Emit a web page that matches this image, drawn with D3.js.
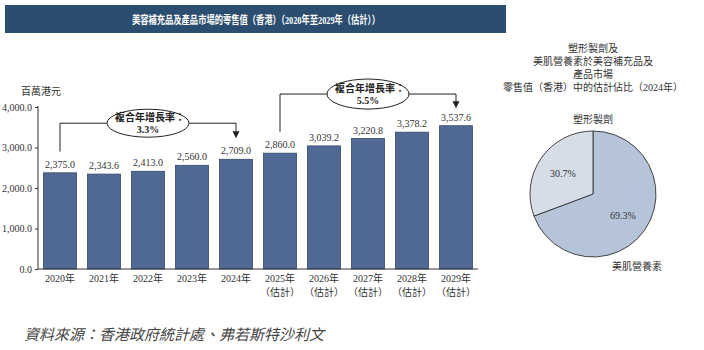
<!DOCTYPE html>
<html><head><meta charset="utf-8">
<script src="https://cdn.jsdelivr.net/npm/d3@7"></script>
<style>
html,body{margin:0;padding:0;background:#fff;}
svg{display:block;}
text{font-family:"Liberation Serif","Noto Sans CJK TC",serif;fill:#333;}
</style></head>
<body>
<svg id="c" width="704" height="350"></svg>
<script>
const title = "美容補充品及產品市場的零售值（香港）（2020年至2029年（估計））";
const years = ["2020年","2021年","2022年","2023年","2024年","2025年","2026年","2027年","2028年","2029年"];
const estimated = [false,false,false,false,false,true,true,true,true,true];
const values = [2375.0,2343.6,2413.0,2560.0,2709.0,2860.0,3039.2,3220.8,3378.2,3537.6];
const yTicks = [0,1000,2000,3000,4000];
const unitLabel = "百萬港元";
const estLabel = "（估計）";
const cagrs = [
  {from:0, to:4, label:"複合年增長率：", rate:"3.3%"},
  {from:5, to:9, label:"複合年增長率：", rate:"5.5%"}
];
const pieTitle = ["塑形製劑及","美肌營養素於美容補充品及","產品市場","零售值（香港）中的估計佔比（2024年）"];
const pieNames = ["美肌營養素","塑形製劑"];
const pieValues = [69.3,30.7];
const source = "資料來源：香港政府統計處、弗若斯特沙利文";

const svg = d3.select("#c");

// title bar
svg.append("rect").attr("x",5).attr("y",5).attr("width",501).attr("height",28).attr("fill","#2b4d70");
svg.append("text").attr("x",256).attr("y",23.5).attr("text-anchor","middle")
  .style("fill","#fff").attr("font-size",11).attr("font-weight","bold")
  .attr("textLength",248).attr("lengthAdjust","spacingAndGlyphs").text(title);

// scales
const x = d3.scaleBand().domain(years).range([38,478]).paddingInner(0.25).paddingOuter(0.125);
const y = d3.scaleLinear().domain([0,4000]).range([269,107]);

// y axis
const yAxis = svg.append("g").attr("transform","translate(38,0)")
  .call(d3.axisLeft(y).tickValues(yTicks).tickFormat(d3.format(",.1f")).tickSize(3).tickPadding(3));
yAxis.select(".domain").attr("stroke","#333").attr("d","M0,"+y(0)+"V"+(y(4000)-1));
yAxis.selectAll(".tick line").attr("stroke","#333");
yAxis.selectAll("text").attr("font-size",10).style("fill","#333").attr("font-family",null);

svg.append("text").attr("x",21).attr("y",95).attr("font-size",10).text(unitLabel);

// bars
svg.selectAll(".bar").data(values).enter().append("rect")
  .attr("x",(d,i)=>x(years[i])).attr("width",x.bandwidth())
  .attr("y",d=>y(d)).attr("height",d=>y(0)-y(d))
  .attr("fill","#506a95").attr("stroke","#34496b").attr("stroke-width",0.8);

svg.selectAll(".val").data(values).enter().append("text")
  .attr("x",(d,i)=>x(years[i])+x.bandwidth()/2).attr("y",d=>y(d)-5)
  .attr("text-anchor","middle").attr("font-size",10).text(d=>d3.format(",.1f")(d));

// x axis
svg.append("line").attr("x1",38).attr("x2",478).attr("y1",y(0)).attr("y2",y(0)).attr("stroke","#333");
years.forEach((yr,i)=>{
  const cx = x(yr)+x.bandwidth()/2;
  svg.append("text").attr("x",cx).attr("y",282).attr("text-anchor","middle").attr("font-size",10).text(yr);
  if(estimated[i]) svg.append("text").attr("x",cx).attr("y",296).attr("text-anchor","middle").attr("font-size",10).text(estLabel);
});

// CAGR annotations
const cagrGeom = [
  {startV:2900, lineV:3600, tipV:3230, ry:14},
  {startV:3390, lineV:4320, tipV:3970, ry:15}
];
cagrs.forEach((c,k)=>{
  const g = cagrGeom[k];
  const x1 = x(years[c.from])+x.bandwidth()/2;
  const x2 = x(years[c.to])+x.bandwidth()/2;
  const ly = y(g.lineV);
  const cx = (x1+x2)/2, rx = 41;
  const tip = y(g.tipV);
  svg.append("path").attr("fill","none").attr("stroke","#222").attr("stroke-width",1)
    .attr("d",`M${x1},${y(g.startV)}V${ly}H${cx-rx}M${cx+rx},${ly}H${x2}V${tip-6}`);
  svg.append("path").attr("fill","#222")
    .attr("d",`M${x2-3.5},${tip-7}L${x2+3.5},${tip-7}L${x2},${tip}Z`);
  svg.append("ellipse").attr("cx",cx).attr("cy",ly).attr("rx",rx).attr("ry",g.ry)
    .attr("fill","#fff").attr("stroke","#222").attr("stroke-width",1);
  svg.append("text").attr("x",cx+2).attr("y",ly-2).attr("text-anchor","middle")
    .attr("font-size",10).attr("font-weight","bold").style("fill","#222").text(c.label);
  svg.append("text").attr("x",cx).attr("y",ly+10).attr("text-anchor","middle")
    .attr("font-size",10).attr("font-weight","bold").style("fill","#222").text(c.rate);
});

// pie
pieTitle.forEach((t,i)=>{
  svg.append("text").attr("x",593).attr("y",52+i*13).attr("text-anchor","middle").attr("font-size",10).text(t);
});
const pcx = 593, pcy = 194, pr = 63;
const pie = d3.pie().sort(null).value(d=>d)(pieValues);
const arc = d3.arc().innerRadius(0).outerRadius(pr);
const pieColors = ["#b5c4d8","#d7dde8"];
const pg = svg.append("g").attr("transform",`translate(${pcx},${pcy})`);
pg.selectAll("path").data(pie).enter().append("path")
  .attr("d",arc).attr("fill",(d,i)=>pieColors[i]).attr("stroke","#333").attr("stroke-width",0.9);
const labelArc = d3.arc().innerRadius(pr*0.58).outerRadius(pr*0.58);
pg.selectAll(".pl").data(pie).enter().append("text")
  .attr("transform",d=>{const c=labelArc.centroid(d);return `translate(${c[0]},${c[1]+4})`;})
  .attr("text-anchor","middle").attr("font-size",10).text(d=>d.value.toFixed(1)+"%");
svg.append("text").attr("x",pcx).attr("y",123).attr("text-anchor","middle").attr("font-size",10).text(pieNames[1]);
svg.append("text").attr("x",637).attr("y",270).attr("text-anchor","middle").attr("font-size",10).text(pieNames[0]);

// source
svg.append("text").attr("x",24).attr("y",340).attr("font-size",15).attr("font-style","italic")
  .style("fill","#444").text(source);
</script>
</body></html>
